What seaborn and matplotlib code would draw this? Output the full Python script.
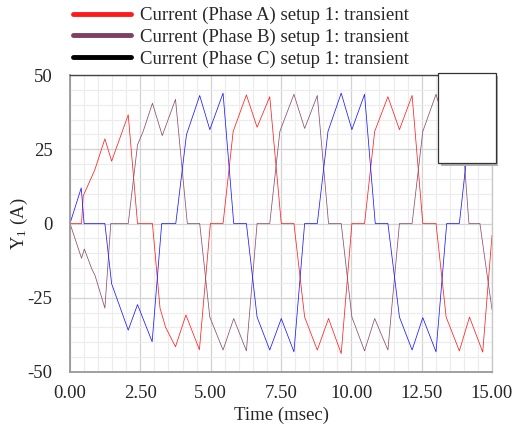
import numpy as np
import pandas as pd
import matplotlib
matplotlib.use("Agg")
import matplotlib.pyplot as plt
import seaborn as sns
from matplotlib.lines import Line2D
from matplotlib.patches import Rectangle
from matplotlib.ticker import MultipleLocator, FormatStrFormatter

# Phase A (red)
t_a = [0, 0.41, 0.47, 0.88, 1.24, 1.48, 2.07, 2.40, 2.93, 3.20, 3.40, 3.75, 4.12, 4.60, 4.99,
       5.44, 5.80, 6.27, 6.65, 7.10, 7.51, 7.96, 8.34, 8.79, 9.19, 9.64, 10.02,
       10.47, 10.83, 11.30, 11.71, 12.16, 12.54, 13.01, 13.37, 13.84, 14.20, 14.67, 15.0]
y_a = [0, 0, 9.3, 18, 28.5, 21, 36.6, 0, 0, -28.5, -35, -41.5, -30.8, -42.5, 0,
       0, 31, 43.3, 32.4, 42.7, 0, 0, -31.5, -42.6, -32, -43.8, 0,
       0, 31, 42.7, 31.6, 43.1, 0, 0, -31.5, -42.9, -31.5, -43.3, -4]

# Phase B (purple)
t_b = [0, 0.41, 0.51, 0.77, 0.89, 1.24, 1.45, 2.07, 2.40, 2.60, 2.93, 3.28, 3.75, 4.17,
       4.61, 4.97, 5.44, 5.82, 6.27, 6.65, 7.10, 7.46, 7.96, 8.34, 8.79, 9.19,
       9.64, 10.02, 10.47, 10.83, 11.30, 11.71, 12.16, 12.54, 13.01, 13.39, 13.84, 14.18,
       14.57, 15.0]
y_b = [0, -11.7, -8.6, -15.2, -17.5, -28.5, 0, 0, 26.5, 31, 40.5, 29.6, 41.8, 0,
       0, -31.5, -42.6, -32, -42.9, 0, 0, 31, 43.5, 32, 43.1, 0,
       0, -31.5, -42.9, -32, -42.6, 0, 0, 31, 43.5, 31.6, 43.5, 0,
       0, -29]

# Phase C (blue)
t_c = [0, 0.40, 0.50, 1.24, 1.48, 2.07, 2.40, 2.92, 3.26, 3.76, 4.14, 4.61, 4.97, 5.44, 5.82,
       6.27, 6.65, 7.10, 7.51, 7.96, 8.34, 8.79, 9.17, 9.64, 10.02, 10.47, 10.85,
       11.30, 11.71, 12.16, 12.54, 13.01, 13.39, 13.84, 14.20, 14.65, 15.0]
y_c = [0, 12, 0, 0, -20.3, -35.9, -27.3, -39.8, 0, 0, 29.9, 43.1, 31.6, 43.9, 0,
       0, -31.5, -42.6, -32, -43.2, 0, 0, 31, 43.9, 31.6, 43.5, 0,
       0, -31.5, -42.6, -31.7, -43.2, 0, 0, 31, 43.5, 32]

labels = ["Current (Phase A) setup 1: transient",
          "Current (Phase B) setup 1: transient",
          "Current (Phase C) setup 1: transient"]

df = pd.concat([
    pd.DataFrame({"t": t_a, "y": y_a, "phase": "A"}),
    pd.DataFrame({"t": t_b, "y": y_b, "phase": "B"}),
    pd.DataFrame({"t": t_c, "y": y_c, "phase": "C"}),
], ignore_index=True)

sns.set_style("white")
plt.rcParams["font.family"] = ["Liberation Serif", "DejaVu Serif"]
plt.rcParams["mathtext.default"] = "regular"
plt.rcParams["axes.unicode_minus"] = False

FS = 13.5

fig = plt.figure(figsize=(5.17, 4.33), dpi=100)
ax = fig.add_axes([70 / 517, 1 - 372 / 433, 422 / 517, 297 / 433])

sns.lineplot(data=df, x="t", y="y", hue="phase", estimator=None, sort=False,
             palette={"A": "#ff2020", "B": "#8a5070", "C": "#1a1aff"},
             linewidth=0.55, legend=False, ax=ax)

ax.set_xlim(0, 15)
ax.set_ylim(-50, 50)
ax.xaxis.set_major_locator(MultipleLocator(2.5))
ax.xaxis.set_minor_locator(MultipleLocator(0.5))
ax.yaxis.set_major_locator(MultipleLocator(25))
ax.yaxis.set_minor_locator(MultipleLocator(5))
ax.xaxis.set_major_formatter(FormatStrFormatter("%.2f"))
ax.grid(which="minor", color="#ececec", linewidth=0.8)
ax.grid(which="major", color="#d2d2d2", linewidth=0.9)
ax.set_axisbelow(True)

ax.tick_params(axis="x", which="major", direction="in", length=4, width=0.8,
               color="#888888", labelsize=FS, pad=9.5)
ax.tick_params(axis="x", which="minor", direction="in", length=2.5, width=0.6, color="#888888")
ax.tick_params(axis="y", which="major", direction="out", length=5, width=0.8,
               color="#888888", labelsize=FS, pad=7.5)
ax.tick_params(axis="y", which="minor", direction="out", length=2.5, width=0.6, color="#888888")

for side in ["left", "bottom"]:
    ax.spines[side].set_color("#999999")
    ax.spines[side].set_linewidth(1.3)
ax.spines["right"].set_color("#c8c8c8")
ax.spines["right"].set_linewidth(1.0)
ax.spines["top"].set_color("#444444")
ax.spines["top"].set_linewidth(1.0)

ax.set_xlabel("Time (msec)", fontsize=FS, labelpad=3.5)
ax.set_ylabel("Y$_1$ (A)", fontsize=FS)
ax.yaxis.set_label_coords(-0.095, 0.5)

handles = [Line2D([], [], color="#ff1a1a", linewidth=3.5),
           Line2D([], [], color="#7f3f62", linewidth=3.5),
           Line2D([], [], color="#000000", linewidth=3.5)]
fig.legend(handles, labels, loc="upper left", bbox_to_anchor=(73 / 517, 1 - 7 / 433),
           frameon=False, fontsize=FS, handlelength=3.1, handletextpad=0.45,
           labelspacing=0.23, borderaxespad=0, borderpad=0)

# empty box with shadow in the top-right corner
shadow = Rectangle((441 / 517, 1 - 166 / 433), 57 / 517, 90 / 433, transform=fig.transFigure,
                   facecolor="#b0b0b0", edgecolor="none", zorder=10)
box = Rectangle((438 / 517, 1 - 163 / 433), 58 / 517, 90 / 433, transform=fig.transFigure,
                facecolor="white", edgecolor="#333333", linewidth=0.9, zorder=11)
fig.patches.extend([shadow, box])

fig.savefig("out.png", dpi=100)
